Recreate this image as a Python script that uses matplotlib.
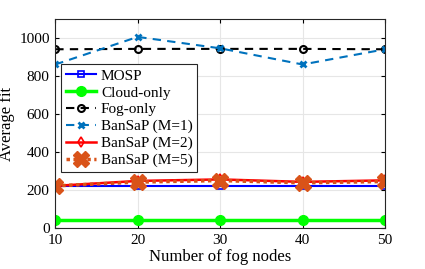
import matplotlib
matplotlib.use('Agg')
import matplotlib.pyplot as plt

plt.rcParams['font.family'] = 'Liberation Serif'

fog_nodes = [10, 20, 30, 40, 50]
mosp = [220, 220, 220, 220, 220]
cloud_only = [45, 45, 45, 45, 45]
fog_only = [940, 942, 942, 942, 940]
bansap_m1 = [860, 1005, 945, 860, 940]
bansap_m2 = [222, 248, 256, 243, 251]
bansap_m5 = [222, 242, 250, 238, 245]

fig = plt.figure(figsize=(4.25, 2.69), dpi=100)
ax = fig.add_axes([0.13, 0.152, 0.776, 0.778])

ax.plot(fog_nodes, mosp, color='#0000ff', lw=1.5, marker='s', ms=5,
        mfc='none', mew=1.2, label='MOSP')
ax.plot(fog_nodes, cloud_only, color='#00ff00', lw=2.5, marker='o', ms=7,
        label='Cloud-only')
ax.plot(fog_nodes, fog_only, color='black', lw=1.5, ls=(0, (4, 3)), marker='o',
        ms=5, mfc='none', mew=1.5, label='Fog-only')
ax.plot(fog_nodes, bansap_m1, color='#0072bd', lw=1.5, ls=(0, (4, 3)), marker='x',
        ms=5, mew=2, label='BanSaP (M=1)')
ax.plot(fog_nodes, bansap_m2, color='#ff0000', lw=1.8, marker='d', ms=5,
        mfc='none', mew=1.2, label='BanSaP (M=2)')
ax.plot(fog_nodes, bansap_m5, color='#d95319', lw=2.5, ls=(0, (1, 1)), marker='X',
        ms=11, label='BanSaP (M=5)')

ax.set_xlim(10, 50)
ax.set_ylim(0, 1100)
ax.set_xticks(fog_nodes)
ax.set_yticks([0, 200, 400, 600, 800, 1000])
ax.grid(True, color='#e6e6e6', lw=0.8)
ax.tick_params(direction='in', labelsize=11, length=3, top=True, right=True,
               pad=4)
for s in ax.spines.values():
    s.set_color('#262626')
    s.set_linewidth(0.8)
ax.set_xlabel('Number of fog nodes', fontsize=12, labelpad=2)
ax.set_ylabel('Average fit', fontsize=12, labelpad=3)

leg = ax.legend(loc='lower left', bbox_to_anchor=(0.018, 0.27), fontsize=11,
                handlelength=2.0, handletextpad=0.3, borderpad=0.3,
                labelspacing=0.2, borderaxespad=0, fancybox=False,
                framealpha=1, edgecolor='#262626')
leg.get_frame().set_linewidth(0.8)

fig.savefig('out.png', dpi=100)
